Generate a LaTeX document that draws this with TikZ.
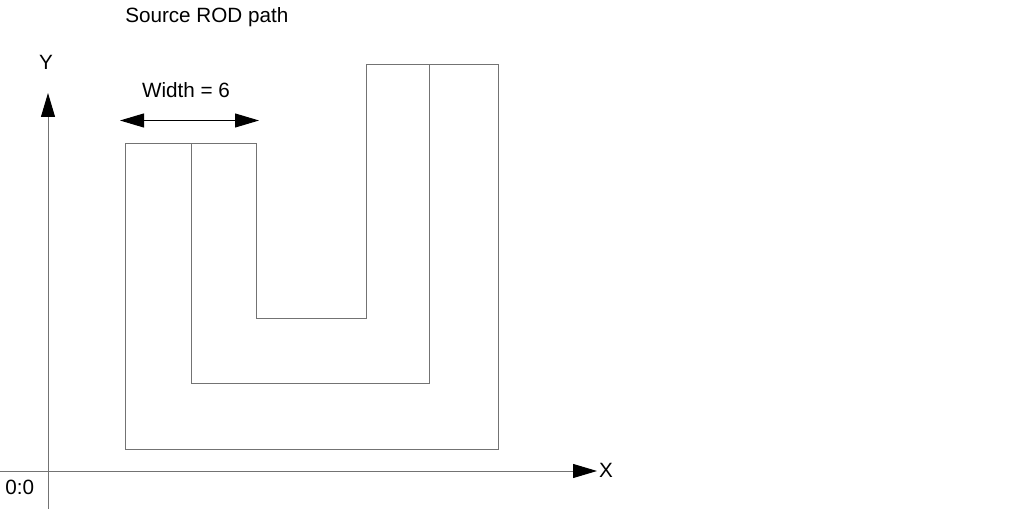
\documentclass[tikz,border=0pt]{standalone}
\usepackage{fontspec}
\setmainfont{Liberation Sans}
\usetikzlibrary{arrows.meta}
\definecolor{linegray}{gray}{0.45}
\tikzset{
  x=0.75pt,y=-0.75pt,
  shape line/.style={draw=linegray,line width=0.75pt},
  axis line/.style={draw=linegray,line width=0.75pt,-{Triangle[length=18pt,width=10.5pt,fill=black,color=black]}},
  dim line/.style={draw=black,line width=0.75pt,{Triangle[length=18pt,width=10.5pt]}-{Triangle[length=18pt,width=10.5pt]}},
  label/.style={font=\fontsize{15.5}{18}\selectfont,inner sep=0pt,text=black}
}
\begin{document}
\begin{tikzpicture}
\useasboundingbox (0,0) rectangle (1013,509);
\node[label,anchor=base west] (title) at (125,23) {Source ROD path};
\node[label,anchor=base] (ylabel) at (46,70) {Y};
\node[label,anchor=base] (width) at (186,98) {Width = 6};
\node[label,anchor=base] (xlabel) at (606,477) {X};
\node[label,anchor=base west] (origin) at (5,494) {0:0};
\coordinate (ys) at (48,509);
\coordinate (ye) at (48,93);
\coordinate (xs) at (0,471);
\coordinate (xe) at (597,471);
\coordinate (da) at (120,120.5);
\coordinate (db) at (259,120.5);
\draw[axis line] (ys) -- (ye);
\draw[axis line] (xs) -- (xe);
\draw[dim line] (da) -- (db);
\draw[shape line] (125,143.7) -- (125,449.3) -- (498,449.3) -- (498,64.7) -- (366,64.7) -- (366,318.5) -- (256,318.5) -- (256,143.7) -- cycle;
\draw[shape line] (191,143.7) -- (191,383.3) -- (429,383.3) -- (429,64.7);
\end{tikzpicture}
\end{document}
